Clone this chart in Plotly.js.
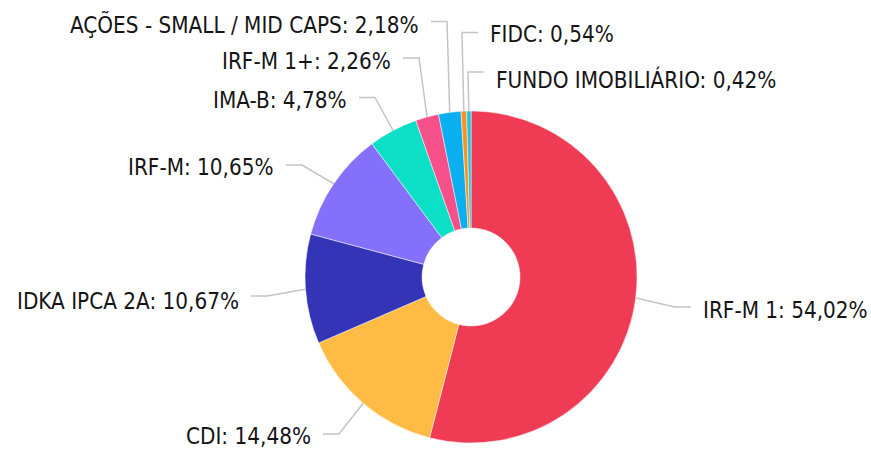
<!DOCTYPE html>
<html><head><meta charset="utf-8">
<script src="https://cdn.plot.ly/plotly-3.0.1.min.js"></script>
<style>html,body{margin:0;padding:0;background:#fff}</style>
</head><body><div id="chart" style="width:871px;height:451px"></div>
<script>
// ---- data ----
const labels = ["IRF-M 1","CDI","IDKA IPCA 2A","IRF-M","IMA-B","IRF-M 1+","AÇÕES - SMALL / MID CAPS","FIDC","FUNDO IMOBILIÁRIO"];
const values = [54.02,14.48,10.67,10.65,4.78,2.26,2.18,0.54,0.42];
const colors = ["#ef3b53","#ffbb44","#3434b6","#8470fb","#0bdfc5","#f6508b","#0aafef","#f7931e","#18c6e2"];

// ---- label placement (pixels in the 871x451 canvas) ----
const W = 871, H = 451;
const labelSide = [ 1,-1,-1,-1,-1,-1,-1, 1, 1];
const labelEdgeX = [702,312,240,275,348,392,420,489,495];
const labelCY   = [309.5,436,300.5,167.5,100,61,24,34,79];
const connY     = [307,434,296,165,97.5,58,21.5,32.5,72];

const dom = {x:[0.3502,0.7314], y:[0.0177,0.7539]};
const cx = W*(dom.x[0]+dom.x[1])/2;
const cy = H*(1-(dom.y[0]+dom.y[1])/2);
const R = Math.min((dom.x[1]-dom.x[0])*W,(dom.y[1]-dom.y[0])*H)/2;

const total = values.reduce((a,b)=>a+b,0);
const px = x=>x/W, py = y=>1-y/H;
const font = {family:"DejaVu Sans Condensed, DejaVu Sans, sans-serif", size:22.3, color:"#151515"};

const annotations = [], shapes = [];
let cum = 0;
values.forEach((v,i)=>{
  const mid = (cum + v/2)/total*2*Math.PI; cum += v;
  const ex = cx + R*Math.sin(mid), ey = cy - R*Math.cos(mid);
  const s = labelSide[i];
  const endX = labelEdgeX[i] - s*11, brkX = endX - s*16;
  shapes.push({type:"path", xref:"paper", yref:"paper",
    path:`M ${px(ex)} ${py(ey)} L ${px(brkX)} ${py(connY[i])} L ${px(endX)} ${py(connY[i])}`,
    line:{color:"#c4c4c4", width:1.5}});
  const txt = labels[i] + ": " + v.toFixed(2).replace(".", ",") + "%";
  annotations.push({xref:"paper", yref:"paper", x:px(labelEdgeX[i]), y:py(labelCY[i]),
    xanchor: s>0?"left":"right", yanchor:"middle", text:txt, showarrow:false,
    font:font, borderpad:0});
});

const data = [{
  type:"pie", labels:labels, values:values, sort:false, direction:"clockwise", rotation:0,
  hole:0.295, marker:{colors:colors, line:{color:"#ffffff", width:0.5}},
  textinfo:"none", showlegend:false, hoverinfo:"label+percent", domain:dom
}];
const layout = {width:W, height:H, margin:{l:0,r:0,t:0,b:0}, separators:",.",
  paper_bgcolor:"#fff", showlegend:false, annotations:annotations, shapes:shapes};
Plotly.newPlot("chart", data, layout, {displayModeBar:false, staticPlot:true});
</script></body></html>
